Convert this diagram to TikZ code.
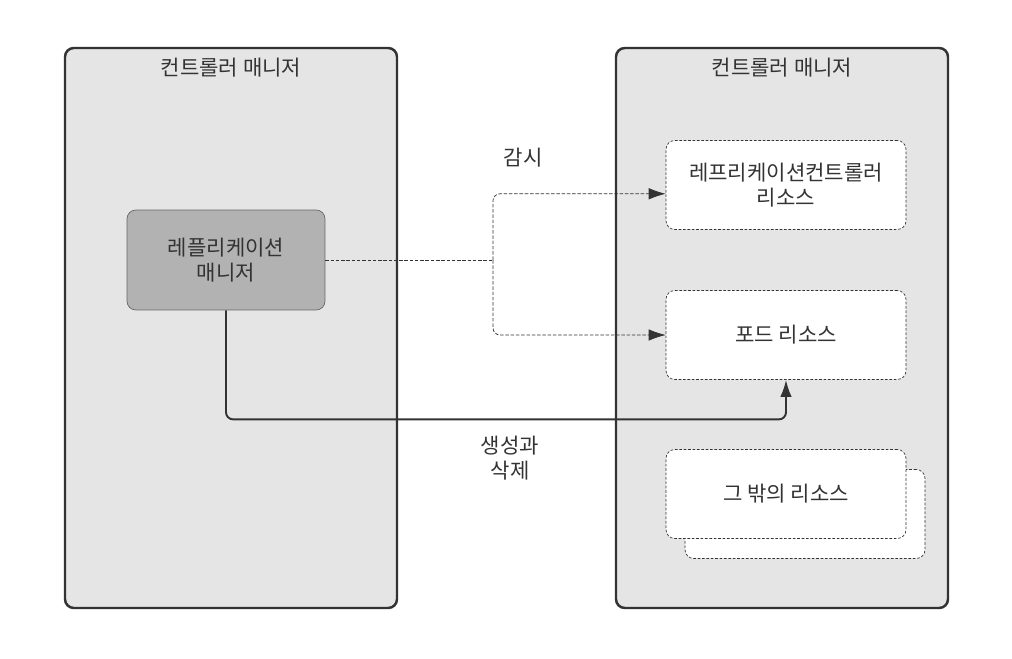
\documentclass[tikz,border=0pt]{standalone}
\usepackage{fontspec}
\setmainfont{Noto Sans CJK KR}
\usetikzlibrary{arrows.meta,positioning}
\definecolor{panelgray}{HTML}{E5E5E5}
\definecolor{mgrgray}{HTML}{B2B2B2}
\definecolor{darkline}{HTML}{333333}

\tikzset{
  panel/.style={draw=darkline,line width=1.4pt,fill=panelgray,rounded corners=5pt},
  paneltitle/.style={anchor=north,font=\large,text=black!80},
  manager/.style={draw=black!60,fill=mgrgray,rounded corners=5pt,minimum width=3.96cm,minimum height=2cm,align=center,font=\large,text=black!80},
  resource/.style={draw=black!80,dash pattern=on 1.5pt off 1pt,fill=white,rounded corners=5pt,minimum width=4.8cm,minimum height=1.78cm,align=center,font=\large,text=black!80},
  watch/.style={draw=black!80,dash pattern=on 2pt off 1pt,rounded corners=4pt},
  make/.style={draw=darkline,line width=1.1pt,rounded corners=4pt},
  lbl/.style={font=\large,align=center,text=black!80}
}

\begin{document}
\begin{tikzpicture}[x=0.02cm,y=-0.02cm]
    \useasboundingbox[fill=white] (0,0) rectangle (1012,659);
    % controller manager panels
    \draw[panel] (65,48) rectangle (397,608);
    \draw[panel] (616,48) rectangle (948,608);
    \node[paneltitle] (lefttitle) at (231,52) {컨트롤러 매니저};
    \node[paneltitle] (righttitle) at (782,52) {컨트롤러 매니저};

    \node[manager] (repman) at (226,260) {레플리케이션\\매니저};

    \node[resource] (rcres) at (786,185) {레프리케이션컨트롤러\\리소스};
    \node[resource] (podres) at (786,335) {포드 리소스};
    \node[resource] (otherback) at (805,514) {};
    \node[resource] (otherres) at (786,494) {그 밖의 리소스};

    % watch
    \coordinate (split) at (493,260);
    \draw[watch] (repman.east) -- (split);
    \draw[watch,-{Latex[length=3.4mm,width=2.3mm]}] (split) |- ([yshift=-5pt]rcres.west);
    \draw[watch,-{Latex[length=3.4mm,width=2.3mm]}] (split) |- (podres.west);
    \node[lbl] (watchlbl) at (523,158) {감시};

    % create and delete
    \draw[make,-{Latex[length=3.4mm,width=2.3mm]}] (repman.south) -- ++(0,109) -| (podres.south);
    \node[lbl] (makelbl) at (510,458) {생성과\\삭제};
\end{tikzpicture}
\end{document}
